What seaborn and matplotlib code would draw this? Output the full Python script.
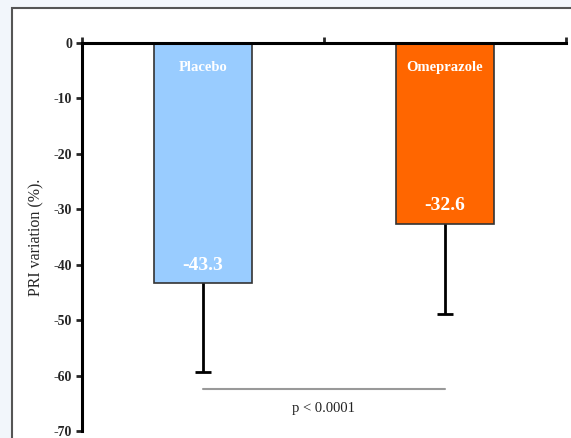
import matplotlib
matplotlib.use("Agg")
import matplotlib.pyplot as plt
from matplotlib.patches import Rectangle
import seaborn as sns
import pandas as pd
import numpy as np

# valeurs
groups = ["Placebo", "Omeprazole"]
means = [-43.3, -32.6]
sd_low = [16.0, 16.3]
labels = ["-43.3", "-32.6"]
colors = ["#99ccff", "#ff6600"]
yticks = [0, -10, -20, -30, -40, -50, -60, -70]
p_text = "p < 0.0001"

df = pd.DataFrame({"group": groups, "value": means})

sns.set_style("white")
plt.rcParams["font.family"] = ["Liberation Serif", "DejaVu Serif"]

fig = plt.figure(figsize=(5.71, 4.38), dpi=100)
fig.patch.set_facecolor("#f2f6fb")
# cadre blanc autour du graphique (dessine sous les axes)
fig.patches.append(Rectangle((12 / 571, -0.05), 1.1, 1 - 8 / 438 + 0.05,
                             transform=fig.transFigure, facecolor="white",
                             edgecolor="#555555", lw=1.5, zorder=-1))

ax = fig.add_axes([82 / 571, 7 / 438, (566 - 82) / 571, (431 - 43) / 438])
ax.set_facecolor("none")

sns.barplot(data=df, x="group", y="value", hue="group", palette=colors,
            order=groups, hue_order=groups, width=0.405, errorbar=None,
            saturation=1, edgecolor="#333333", linewidth=1.2, legend=False, ax=ax)

# barres d'erreur vers le bas seulement
eb = ax.errorbar([0, 1], means, yerr=[sd_low, [0, 0]], fmt="none", ecolor="black",
                 elinewidth=2, capsize=5.5, capthick=2, zorder=5)
for cap in eb[1]:
    if np.allclose(cap.get_ydata(), means):
        cap.set_visible(False)

for i, g in enumerate(groups):
    ax.text(i, -4.4, g, color="white", fontweight="bold", fontsize=10.5,
            ha="center", va="center")
    ax.text(i, means[i] + 3.2, labels[i], color="white", fontweight="bold",
            fontsize=14, ha="center", va="center")

ax.plot([0, 1], [-62.4, -62.4], color="#999999", lw=1.5)
ax.text(0.5, -66.0, p_text, fontsize=10.5, ha="center", va="center", color="#222222")

ax.set_ylim(-70, 0)
ax.set_xlim(-0.5, 1.5)
ax.set_yticks(yticks)
ax.set_yticklabels([str(t) for t in yticks], fontweight="bold", fontsize=10)
ax.set_xticks([-0.5, 0.5, 1.5])
ax.set_xticklabels([])
ax.xaxis.tick_top()
ax.tick_params(axis="x", top=True, bottom=False, direction="out", length=4, width=2)
ax.tick_params(axis="y", left=True, direction="out", length=4, width=2, pad=3)
ax.set_xlabel("")
ax.set_ylabel("PRI variation (%).", fontsize=11.5, labelpad=7)

for s in ["bottom", "right"]:
    ax.spines[s].set_visible(False)
for s in ["top", "left"]:
    ax.spines[s].set_visible(True)
    ax.spines[s].set_linewidth(2.2)
    ax.spines[s].set_color("black")

fig.savefig("out.png", dpi=100)
